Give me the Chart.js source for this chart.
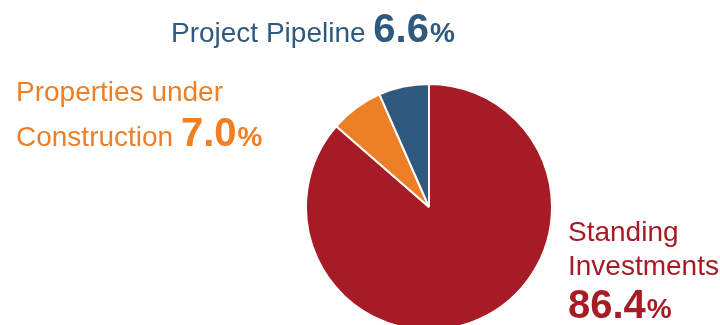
<!DOCTYPE html>
<html>
<head>
<meta charset="utf-8">
<script src="https://cdn.jsdelivr.net/npm/chart.js@4"></script>
<style>
    html, body { margin: 0; padding: 0; background: #fff; overflow: hidden; }
    #wrap { width: 720px; height: 325px; }
</style>
</head>
<body>
<div id="wrap"><canvas id="myChart" width="720" height="325"></canvas></div>
<script>
// shares, clockwise from 12 o'clock
const categories = ['Standing Investments', 'Properties under Construction', 'Project Pipeline'];
const shares = [86.4, 7.0, 6.6];
const sliceColors = ['#A61B25', '#ED7F26', '#2F5A7D'];

// label text lines (name lines + percentage)
const labelLines = [
    ['Standing', 'Investments'],
    ['Properties under', 'Construction'],
    ['Project Pipeline']
];

// where each label is drawn: x, baseline of first line, line gap, and
// whether the number sits on its own line
const labelPlacement = [
    { x: 568, y: 241, gap: 34, numOwnLine: true, numY: 318 },
    { x: 16, y: 101, gap: 45, numOwnLine: false },
    { x: 171, y: 42, gap: 0, numOwnLine: false }
];

const FONT = '"Liberation Sans", Arial, sans-serif';

const sliceLabels = {
    id: 'sliceLabels',
    afterDraw(chart) {
        const ctx = chart.ctx;
        ctx.save();
        ctx.textBaseline = 'alphabetic';
        ctx.textAlign = 'left';
        categories.forEach((cat, i) => {
            const p = labelPlacement[i];
            const lines = labelLines[i];
            ctx.fillStyle = sliceColors[i];
            ctx.font = '28px ' + FONT;
            let lastX = p.x;
            let lastY = p.y;
            lines.forEach((line, j) => {
                const y = p.y + j * p.gap;
                ctx.fillText(line, p.x, y);
                lastX = p.x + ctx.measureText(line + ' ').width;
                lastY = y;
            });
            let nx = lastX, ny = lastY;
            if (p.numOwnLine) {
                nx = p.x;
                ny = p.numY;
            }
            const num = shares[i].toFixed(1);
            ctx.font = 'bold 40px ' + FONT;
            ctx.fillText(num, nx, ny);
            nx += ctx.measureText(num).width + 1;
            ctx.font = 'bold 28px ' + FONT;
            ctx.fillText('%', nx, ny);
        });
        ctx.restore();
    }
};

new Chart(document.getElementById('myChart'), {
    type: 'pie',
    data: {
        labels: categories,
        datasets: [{
            data: shares,
            backgroundColor: sliceColors,
            borderColor: '#ffffff',
            borderWidth: 2
        }]
    },
    options: {
        responsive: false,
        animation: false,
        radius: 123,
        layout: {
            padding: { top: 89, bottom: 0, left: 138, right: 0 }
        },
        plugins: {
            legend: { display: false },
            tooltip: { enabled: false }
        }
    },
    plugins: [sliceLabels]
});
</script>
</body>
</html>
